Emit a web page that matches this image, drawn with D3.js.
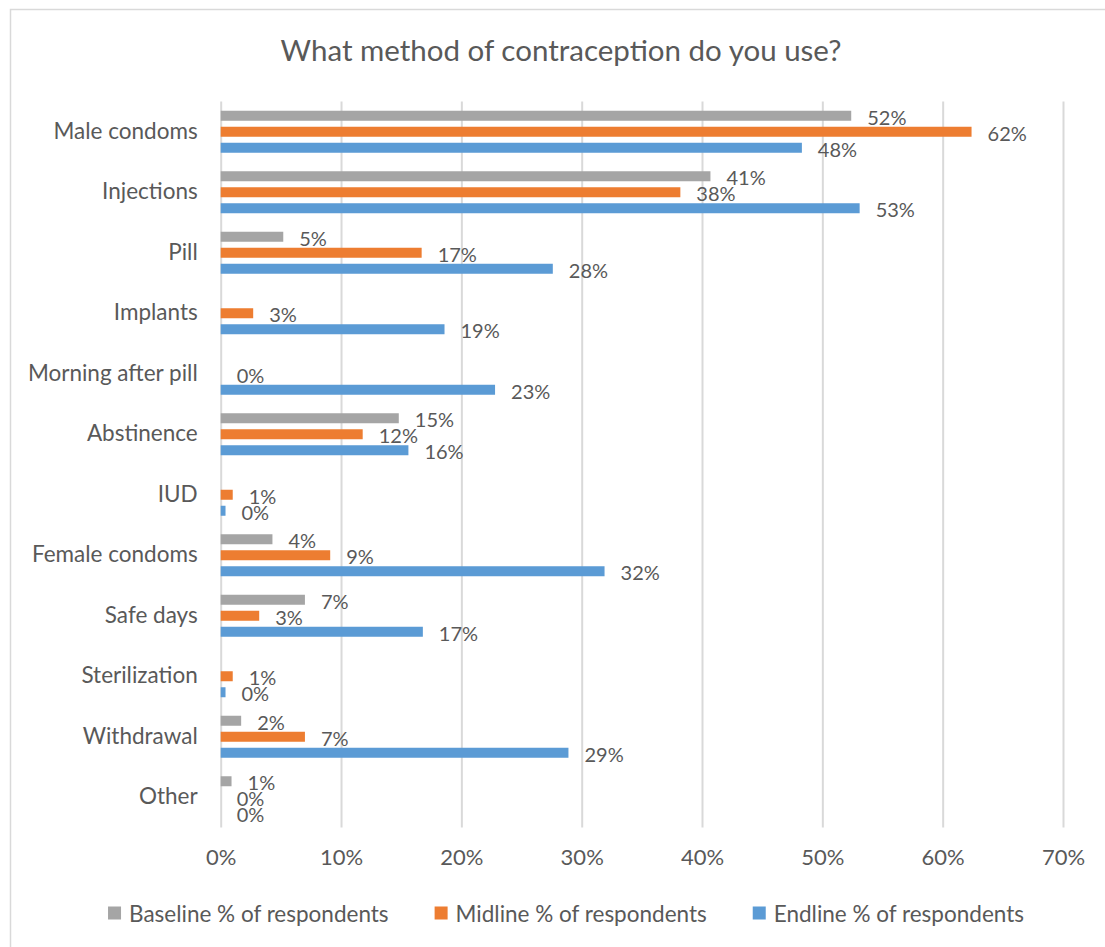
<!DOCTYPE html>
<html>
<head>
<meta charset="utf-8">
<script src="https://cdn.jsdelivr.net/npm/d3@7"></script>
<style>
  body { margin: 0; background: #fff; }
  text { font-family: Lato, "Open Sans", sans-serif; fill: #595959; }
</style>
</head>
<body>
<svg id="drawing_region"></svg>
<script>
// categories top to bottom
var categories = ['Male condoms', 'Injections', 'Pill', 'Implants', 'Morning after pill',
  'Abstinence', 'IUD', 'Female condoms', 'Safe days', 'Sterilization', 'Withdrawal', 'Other'];

var seriesNames = ['Baseline % of respondents', 'Midline % of respondents', 'Endline % of respondents'];
var seriesColors = ['#A5A5A5', '#ED7D31', '#5B9BD5'];

// values in percent, null = no bar / no label
var baseline = [52.4, 40.7, 5.2, null, null, 14.8, null, 4.3, 7.0, null, 1.7, 0.9];
var midline  = [62.4, 38.2, 16.7, 2.7, 0, 11.8, 1.0, 9.1, 3.2, 1.0, 7.0, 0];
var endline  = [48.3, 53.1, 27.6, 18.6, 22.8, 15.6, 0.4, 31.9, 16.8, 0.4, 28.9, 0];

var xTicks = [0, 10, 20, 30, 40, 50, 60, 70];

var width = 1105;
var height = 947;
var margin = {top: 101.5, right: 42, bottom: 119.5, left: 220.7};

var svg = d3.select('#drawing_region')
    .attr('width', width)
    .attr('height', height);

// chart frame
svg.append('rect')
    .attr('x', 10.5).attr('y', 9.5)
    .attr('width', width + 20).attr('height', height + 20)
    .attr('fill', 'none')
    .attr('stroke', '#D9D9D9')
    .attr('stroke-width', 1.5);

const inner_width = width - margin.left - margin.right;
const inner_height = height - margin.top - margin.bottom;

var chart = svg.append('g')
    .attr('transform', `translate(${margin.left}, ${margin.top})`);

const xscale = d3.scaleLinear()
      .domain([0, 70])
      .range([0, inner_width]);

const yscale = d3.scaleBand()
      .domain(categories)
      .range([0, inner_height]);

// three bars inside each category band
const inner = d3.scaleBand()
      .domain(seriesNames)
      .range([6.25, yscale.bandwidth() - 6.25])
      .paddingInner(0.375)
      .paddingOuter(0.1875);

// gridlines
const grid = chart.append('g')
      .attr('transform', `translate(0, ${inner_height})`)
      .call(d3.axisBottom(xscale).tickValues(xTicks).tickSize(-inner_height).tickFormat(''));
grid.select('.domain').remove();
grid.selectAll('line').attr('stroke', '#D9D9D9').attr('stroke-width', 2);

// x tick labels
const xaxis_group = chart.append('g')
      .attr('transform', `translate(0, ${inner_height})`)
      .call(d3.axisBottom(xscale).tickValues(xTicks).tickSize(0).tickPadding(22).tickFormat(d => d + '%'));
xaxis_group.select('.domain').remove();
xaxis_group.selectAll('text')
    .style('font-family', 'Lato, sans-serif')
    .style('font-size', '22px')
    .attr('fill', '#595959');

// category labels
const yaxis_group = chart.append('g')
      .call(d3.axisLeft(yscale).tickSize(0).tickPadding(23));
yaxis_group.select('.domain').remove();
yaxis_group.selectAll('text')
    .style('font-family', 'Lato, sans-serif')
    .style('font-size', '22.5px')
    .attr('fill', '#595959');

// bars
var allSeries = [baseline, midline, endline];
var rows = [];
allSeries.forEach(function(vals, si) {
  vals.forEach(function(v, ci) {
    if (v !== null) rows.push({cat: categories[ci], series: seriesNames[si], color: seriesColors[si], value: v});
  });
});

chart.selectAll('rect.bar')
    .data(rows)
    .join('rect')
    .attr('class', 'bar')
    .attr('x', 0)
    .attr('y', d => yscale(d.cat) + inner(d.series))
    .attr('width', d => xscale(d.value))
    .attr('height', inner.bandwidth())
    .attr('fill', d => d.color);

chart.selectAll('text.lbl')
    .data(rows)
    .join('text')
    .attr('class', 'lbl')
    .attr('x', d => xscale(d.value) + 16)
    .attr('y', d => yscale(d.cat) + inner(d.series) + inner.bandwidth() / 2 + 1)
    .attr('dominant-baseline', 'central')
    .style('font-size', '20px')
    .text(d => Math.round(d.value) + '%');

// title
svg.append('text')
    .attr('x', 561)
    .attr('y', 61)
    .attr('text-anchor', 'middle')
    .style('font-size', '29.5px')
    .text('What method of contraception do you use?');

// legend, centred under the plot
var legend = svg.append('g');
var items = legend.selectAll('g')
    .data(seriesNames)
    .join('g');
items.append('rect')
    .attr('width', 13).attr('height', 13)
    .attr('y', -6.5)
    .attr('fill', (d, i) => seriesColors[i]);
items.append('text')
    .attr('x', 21)
    .attr('dominant-baseline', 'central')
    .style('font-size', '22.5px')
    .text(d => d);

var pos = 0;
items.each(function() {
  var w = this.getBBox().width;
  d3.select(this).attr('transform', `translate(${pos}, 0)`);
  pos += w + 46;
});
var total = pos - 46;
legend.attr('transform', `translate(${566 - total / 2}, 913)`);
</script>
</body>
</html>
